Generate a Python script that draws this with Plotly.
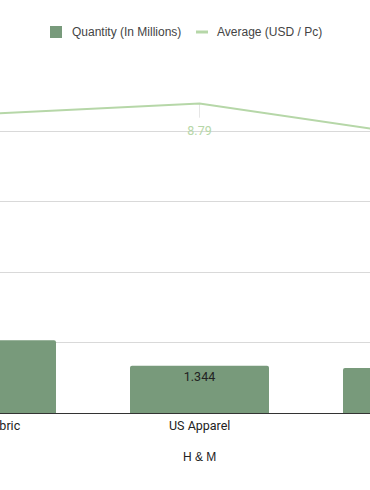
import plotly.graph_objects as go

categories = ["China Fabric", "US Apparel", "EU Apparel"]
quantity = [2.07, 1.344, 1.28]
average = [8.50, 8.79, 7.91]
axis_title = "H & M"

BAR = "#789a7b"
LINE = "#b6d7a8"
W, H = 370, 490
ML, MR, MT, MB = 0, 0, 61, 77
PW = W - ML - MR
PH = H - MT - MB

fig = go.Figure()
fig.add_trace(go.Bar(
    x=categories, y=quantity, name="Quantity (In Millions)",
    marker=dict(color=BAR, cornerradius=2, line=dict(width=0)),
    texttemplate="%{y}", textposition="inside", insidetextanchor="end",
    textfont=dict(family="Roboto, Arial", size=12.5, color="#222222"),
    showlegend=False, cliponaxis=True,
))
fig.add_trace(go.Scatter(
    x=categories, y=average, name="Average (USD / Pc)", yaxis="y2",
    mode="lines+markers+text",
    line=dict(color=LINE, width=2),
    marker=dict(size=34, opacity=0, color=LINE),
    text=[f"{v:.2f}" for v in average], textposition="bottom center",
    textfont=dict(family="Roboto, Arial", size=12.5, color=LINE),
    error_y=dict(type="data", symmetric=False, array=[0, 0, 0],
                 arrayminus=[0.4, 0.4, 0.4], color="#e6e6e6", thickness=1, width=0),
    showlegend=False, cliponaxis=True,
))

# category spacing 213 px, centre category at 199.5 px
step = 213.0
r0 = 1 - 199.5 / step
r1 = r0 + PW / step

fig.update_layout(
    width=W, height=H,
    margin=dict(l=ML, r=MR, t=MT, b=MB, pad=0),
    paper_bgcolor="white", plot_bgcolor="white",
    font=dict(family="Arial, Liberation Sans", size=12, color="#222222"),
    bargap=1 - 139 / step,
    xaxis=dict(type="category", range=[r0, r1], showgrid=False,
               showline=True, linecolor="#333333", linewidth=1,
               ticks="", showticklabels=False),
    yaxis=dict(range=[0, 10], dtick=2, showticklabels=False, showgrid=True,
               gridcolor="#d9d9d9", gridwidth=1, zeroline=False, showline=False),
    yaxis2=dict(range=[0, 10], overlaying="y", side="right", showticklabels=False,
                showgrid=False, zeroline=False, showline=False),
    showlegend=False,
)

# category labels (drawn as paper annotations so labels whose centre is
# just outside the visible range still show their visible part)
for i, c in enumerate(categories):
    fig.add_annotation(text=c, xref="paper", x=(i - r0) / (r1 - r0),
                       yref="paper", y=-12 / PH, xanchor="center", yanchor="middle",
                       showarrow=False,
                       font=dict(family="Roboto, Arial", size=12.5, color="#222222"))

fig.add_annotation(text=axis_title, xref="paper", x=(1 - r0) / (r1 - r0),
                   yref="paper", y=-44 / PH,
                   yanchor="middle", xanchor="center", showarrow=False,
                   font=dict(family="Arial, Liberation Sans", size=12, color="#222222"))

# custom legend
def px2x(px):
    return (px - ML) / PW

def py2y(py):
    return (H - MB - py) / PH

ly = 32
fig.add_shape(type="rect", xref="paper", yref="paper",
              x0=px2x(50), x1=px2x(62), y0=py2y(ly + 6), y1=py2y(ly - 6),
              fillcolor=BAR, line=dict(width=0))
fig.add_annotation(text="Quantity (In Millions)", xref="paper", yref="paper",
                   x=px2x(70), y=py2y(ly), xanchor="left", yanchor="middle",
                   showarrow=False,
                   font=dict(family="Arial, Liberation Sans", size=12, color="#444444"))
fig.add_shape(type="line", xref="paper", yref="paper",
              x0=px2x(196), x1=px2x(208), y0=py2y(ly), y1=py2y(ly),
              line=dict(color=LINE, width=3))
fig.add_annotation(text="Average (USD / Pc)", xref="paper", yref="paper",
                   x=px2x(215), y=py2y(ly), xanchor="left", yanchor="middle",
                   showarrow=False,
                   font=dict(family="Arial, Liberation Sans", size=12, color="#444444"))

fig.write_html("out.html")
